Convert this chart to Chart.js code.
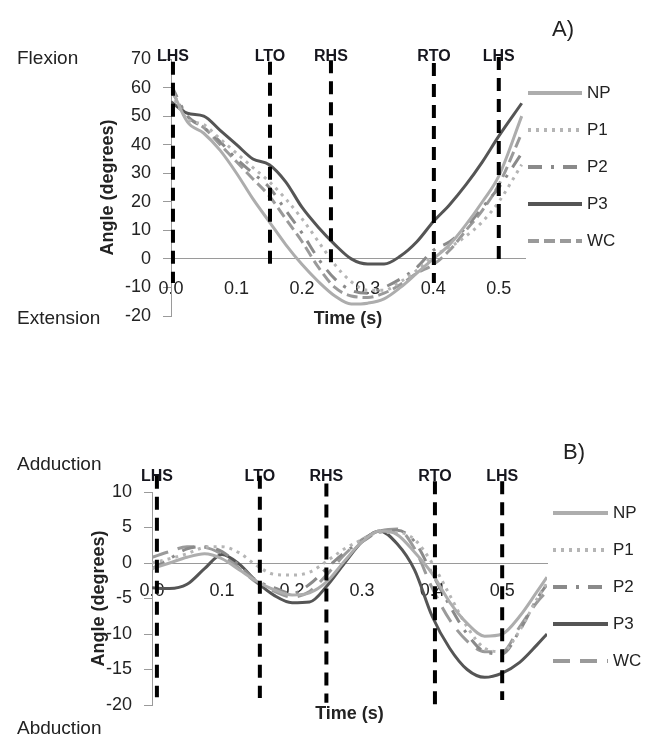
<!DOCTYPE html>
<html>
<head>
<meta charset="utf-8">
<script src="https://cdn.jsdelivr.net/npm/chart.js@4.4.1/dist/chart.umd.min.js"></script>
<style>
  html, body { margin: 0; padding: 0; background: #fff; }
  body { width: 655px; height: 745px; position: relative; overflow: hidden;
         font-family: "Liberation Sans", Arial, sans-serif; color: #222; }
  .panel { position: absolute; left: 0; width: 655px; }
  .note { position: absolute; font-size: 19px; line-height: 20px; white-space: nowrap; }
  .tag { position: absolute; font-size: 22px; line-height: 22px; }
</style>
</head>
<body>
<div class="panel" style="top:0;height:372px"><canvas id="hipA"></canvas></div>
<div class="panel" style="top:372px;height:373px"><canvas id="hipB"></canvas></div>

<div class="note" style="left:17px;top:48px">Flexion</div>
<div class="note" style="left:17px;top:308px">Extension</div>
<div class="tag" style="left:552px;top:18px">A)</div>
<div class="note" style="left:17px;top:454px">Adduction</div>
<div class="note" style="left:17px;top:718px">Abduction</div>
<div class="tag" style="left:563px;top:441px">B)</div>

<script>
// gait cycle groups and events
const seriesNames = ['NP', 'P1', 'P2', 'P3', 'WC'];
const eventNames = ['LHS', 'LTO', 'RHS', 'RTO', 'LHS'];

// A) flexion / extension
const timeA = [0, 0.025, 0.05, 0.075, 0.1, 0.125, 0.15, 0.175, 0.2, 0.225, 0.25,
               0.275, 0.3, 0.325, 0.35, 0.375, 0.4, 0.425, 0.45, 0.475, 0.5, 0.535];
const npA = [60, 48, 44, 38, 30, 21, 13, 5, -2, -8, -13, -15.8, -15.5, -14, -10, -5, 0, 5, 12, 20, 29, 50];
const p1A = [58, 49, 47, 42, 37, 32, 27, 21, 14, 6, -2, -8, -11, -11, -8, -4, 1, 4, 8, 13, 20, 33];
const p2A = [61, 50, 46, 41, 35, 30, 25, 17, 9, 0, -7, -11, -12, -10, -7, -3, 3, 6, 11, 18, 25, 37];
const p3A = [55, 51, 50, 45, 40, 35, 33, 27, 18, 11, 5, 0, -1.8, -1.8, 1, 6, 13, 19, 26, 34, 43, 54.5];
const wcA = [59, 50, 46, 40, 34, 28, 22, 14, 6, -3, -10, -13, -13.5, -12, -9, -5, -2, 3, 10, 17, 26, 44];
const eventTimeA = [0.003, 0.151, 0.244, 0.401, 0.5];
const eventTopA = [69, 69, 69.6, 68.6, 70.7];
const eventBottomA = [-8.4, -4.5, -3.9, -8.4, -1.4];

// B) adduction / abduction
const timeB = [0, 0.025, 0.05, 0.075, 0.1, 0.125, 0.15, 0.175, 0.2, 0.225, 0.25, 0.275,
               0.3, 0.325, 0.35, 0.375, 0.4, 0.425, 0.45, 0.475, 0.5, 0.525, 0.55, 0.564];
const npB = [-0.8, 0, 0.8, 1.3, 0.6, -1, -2.6, -3.8, -4.5, -4.2, -2.6, 0.3, 3, 4.5, 4, 1.5, -1.5, -5.5, -8.5, -10.3, -10, -7.5, -4, -2];
const p1B = [0, 0.6, 1.3, 2.2, 2.3, 1.4, -0.4, -1.6, -1.7, -1.3, 0.3, 2, 3.3, 4.3, 4.3, 3.3, 0, -4.5, -9, -12, -12.5, -9.5, -5, -2.8];
const p2B = [-0.8, 0.6, 2, 2.3, 1.6, -0.4, -2.5, -3.5, -4.3, -3, -0.7, 1.5, 3, 4.4, 4.6, 3, -1.5, -6, -10, -12.5, -12.8, -9.5, -5, -3];
const p3B = [-3.5, -3.6, -3, -0.8, 1.2, -0.2, -2.7, -4.6, -5.6, -5.5, -3.2, 0, 3, 4.5, 2.7, -1, -7.5, -12, -15, -16.1, -15.5, -14, -11.5, -10];
const wcB = [0.8, 1.6, 2.3, 2.2, 1.2, -0.8, -2.8, -4, -4.8, -4, -1.6, 1.2, 3.3, 4.5, 4.8, 2, -3.5, -8, -11, -12.5, -12.5, -9, -5.5, -4];
const eventTimeB = [0.007, 0.154, 0.249, 0.404, 0.5];
const eventTopB = [12.3, 12.3, 11.2, 11.5, 11.5];
const eventBottomB = [-18.9, -19, -19.7, -20.3, -19.3];

const FONT = '"Liberation Sans", Arial, sans-serif';
const TEXT = '#232323';
const AXIS = '#9a9a9a';

const lineStyle = {
  NP: { color: '#adadad', dash: [] },
  P1: { color: '#b5b5b5', dash: [3, 5] },
  P2: { color: '#8a8a8a', dash: [14, 9, 3, 9] },
  P3: { color: '#555555', dash: [] },
  WC: { color: '#9a9a9a', dash: [11, 5] }
};

// event names written above the dashed markers
const eventLabels = {
  id: 'eventLabels',
  beforeDatasetsDraw(chart, args, opts) {
    const ctx = chart.ctx;
    const xs = chart.scales.x;
    ctx.save();
    ctx.font = 'bold 16px ' + FONT;
    ctx.fillStyle = '#16161e';
    ctx.textAlign = 'center';
    ctx.textBaseline = 'middle';
    chart.data.datasets.forEach(ds => {
      if (!ds.eventMark) return;
      ctx.fillText(ds.label, xs.getPixelForValue(ds.data[0].x), opts.y);
    });
    ctx.restore();
  }
};

// legend on the right, drawn with each series' own dash
const lineLegend = {
  id: 'lineLegend',
  afterDraw(chart, args, opts) {
    const ctx = chart.ctx;
    ctx.save();
    ctx.font = '17px ' + FONT;
    ctx.textBaseline = 'middle';
    let row = 0;
    chart.data.datasets.forEach(ds => {
      if (ds.eventMark) return;
      const y = opts.y + row * opts.gap;
      ctx.strokeStyle = ds.borderColor;
      ctx.lineWidth = 4;
      ctx.setLineDash(ds.borderDash);
      ctx.beginPath();
      ctx.moveTo(opts.x, y);
      ctx.lineTo(opts.x + opts.len, y);
      ctx.stroke();
      ctx.fillStyle = TEXT;
      ctx.fillText(ds.label, opts.x + opts.len + 5, y);
      row++;
    });
    ctx.restore();
  }
};

function buildDatasets(time, values, evTime, evTop, evBottom, wcDash) {
  const sets = seriesNames.map((name, i) => ({
    label: name,
    data: time.map((t, k) => ({ x: t, y: values[i][k] })),
    borderColor: lineStyle[name].color,
    borderDash: name === 'WC' && wcDash ? wcDash : lineStyle[name].dash,
    borderWidth: 3,
    pointRadius: 0,
    cubicInterpolationMode: 'monotone',
    fill: false
  }));
  evTime.forEach((t, i) => {
    sets.push({
      label: eventNames[i],
      eventMark: true,
      data: [{ x: t, y: evTop[i] }, { x: t, y: evBottom[i] }],
      borderColor: '#000',
      borderWidth: 4,
      borderDash: [13, 8],
      pointRadius: 0,
      clip: false,
      order: -1
    });
  });
  return sets;
}

function makeChart(id, p) {
  return new Chart(document.getElementById(id), {
    type: 'line',
    data: { datasets: p.datasets },
    plugins: [eventLabels, lineLegend],
    options: {
      responsive: true,
      maintainAspectRatio: false,
      animation: false,
      layout: { padding: p.padding },
      plugins: {
        legend: { display: false },
        tooltip: { enabled: false },
        eventLabels: { y: p.eventLabelY },
        lineLegend: p.legend
      },
      scales: {
        x: {
          type: 'linear',
          position: { y: 0 },
          min: 0, max: p.xMax,
          ticks: {
            stepSize: 0.1, includeBounds: false, padding: p.xTickPad,
            autoSkip: false, maxRotation: 0,
            color: TEXT, font: { family: FONT, size: 18 },
            callback: v => v.toFixed(1)
          },
          grid: { display: false, drawTicks: false },
          border: { color: AXIS, width: 1 }
        },
        xTitle: {
          type: 'linear',
          position: 'bottom',
          min: 0, max: p.xMax,
          ticks: { display: false },
          grid: { display: false, drawTicks: false },
          border: { display: false },
          title: {
            display: true, text: 'Time (s)', color: TEXT,
            font: { family: FONT, size: 18, weight: 'bold' },
            padding: { top: 0, bottom: p.xTitlePad }
          },
          afterFit(s) { s.height = 20; }
        },
        y: {
          min: p.yMin, max: p.yMax,
          ticks: { stepSize: p.yStep, padding: 12, color: TEXT, font: { family: FONT, size: 18 } },
          grid: { drawOnChartArea: false, drawTicks: true, tickLength: 8, color: AXIS },
          border: { color: AXIS, width: 1 },
          title: {
            display: true, text: 'Angle (degrees)', color: TEXT,
            font: { family: FONT, size: 18, weight: 'bold' },
            padding: { top: 4, bottom: 0 }
          },
          afterFit(s) { s.width = p.yWidth; }
        }
      }
    }
  });
}

makeChart('hipA', {
  datasets: buildDatasets(timeA, [npA, p1A, p2A, p3A, wcA], eventTimeA, eventTopA, eventBottomA),
  padding: { left: 93, right: 130, top: 59, bottom: 36 },
  yWidth: 78,
  xMax: 0.54, xTickPad: 19, xTitlePad: 6,
  yMin: -20, yMax: 70, yStep: 10,
  eventLabelY: 57,
  legend: { x: 528, y: 93, gap: 37, len: 54 }
});

makeChart('hipB', {
  datasets: buildDatasets(timeB, [npB, p1B, p2B, p3B, wcB], eventTimeB, eventTopB, eventBottomB, [17, 10]),
  padding: { left: 84, right: 108, top: 120, bottom: 20 },
  yWidth: 68,
  xMax: 0.564, xTickPad: 17, xTitlePad: 0,
  yMin: -20, yMax: 10, yStep: 5,
  eventLabelY: 105,
  legend: { x: 553, y: 141, gap: 37, len: 55 }
});
</script>
</body>
</html>
